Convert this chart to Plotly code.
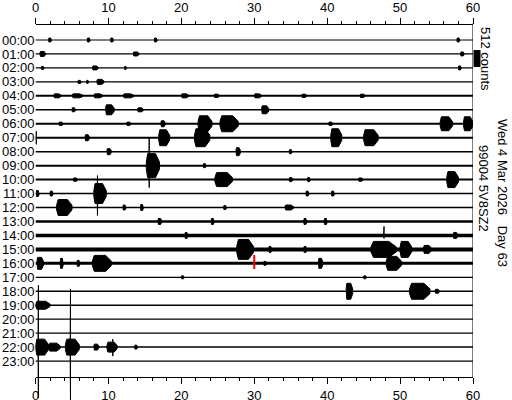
import plotly.graph_objects as go

# ---------------- data ----------------
ROW_LABELS = ["%02d:00" % h for h in range(24)]
X_TICKS = [0, 10, 20, 30, 40, 50, 60]
COUNTS_PER_ROW = 420          # trace spacing expressed in counts
SCALE_COUNTS = 512            # scale bar

# baseline (background noise) thickness per hourly row, px
BASE_WIDTH = [1, 1.2, 1.2, 1.2, 2, 1.5, 2, 2, 1.5, 2, 2, 1.5,
              1.5, 2.5, 3.5, 4, 3, 1.2, 1.5, 1.5, 1.2, 1.2, 1.5, 1.2]

# bursts: row, start minute, end minute, half amplitude (counts)
B_ROW = [0, 0, 0, 0, 0, 1, 1, 1, 2, 2, 2, 2, 3, 3, 3,
         4, 4, 4, 4, 4, 4, 4, 4, 4, 5, 5, 5, 5,
         6, 6, 6, 6, 6, 6, 6, 6, 7, 7, 7, 7, 7,
         8, 8, 8, 9, 9, 10, 10, 10, 10, 10, 10,
         11, 11, 11, 11, 11, 12, 12, 12, 12, 12,
         13, 13, 13, 13, 14, 14, 15, 15, 15, 15, 15, 15,
         16, 16, 16, 16, 16, 16, 16, 17, 17, 18, 18, 18, 19,
         22, 22, 22, 22, 22, 22]
B_START = [1.8, 7.1, 10.3, 16.3, 57.8, 0.6, 13.4, 58.3, 0.8, 7.8, 12.2, 58.0, 5.8, 8.4, 7.0,
           2.5, 5.0, 8.0, 12.0, 20.0, 30.0, 24.5, 36.5, 44.5, 9.6, 31.0, 14.0, 5.0,
           22.3, 25.3, 55.5, 58.7, 17.2, 3.2, 12.5, 40.2, 6.8, 16.9, 21.8, 40.5, 45.0,
           9.8, 27.5, 34.8, 15.2, 23.0, 24.6, 56.4, 34.8, 37.3, 5.2, 44.3,
           0.1, 2.0, 8.0, 37.1, 40.6, 2.9, 12.0, 14.4, 25.8, 34.2,
           16.8, 24.1, 36.8, 39.6, 20.5, 57.3, 27.6, 46.0, 50.0, 53.2, 32.0, 36.8,
           0.2, 3.4, 5.7, 7.8, 48.1, 38.8, 31.3, 20.0, 45.0, 42.6, 51.3, 54.8, 0.0,
           0.0, 1.8, 4.1, 8.0, 9.8, 13.6]
B_END = [2.2, 7.5, 10.7, 16.7, 58.2, 1.4, 14.2, 58.8, 1.2, 8.6, 12.5, 58.4, 6.3, 9.4, 7.3,
         3.5, 6.5, 9.2, 13.5, 21.0, 31.0, 25.2, 37.2, 45.2, 10.8, 32.0, 14.8, 5.5,
         24.2, 27.8, 57.2, 60.0, 17.8, 3.8, 13.1, 40.8, 7.4, 18.4, 23.9, 42.0, 47.0,
         10.4, 28.1, 35.2, 17.0, 23.4, 27.0, 58.0, 35.3, 37.7, 5.8, 44.9,
         0.5, 2.4, 9.7, 37.5, 41.0, 5.0, 12.4, 14.8, 26.2, 35.4,
         17.3, 24.5, 37.2, 40.0, 20.9, 57.9, 29.9, 49.5, 51.6, 54.3, 32.4, 37.2,
         1.1, 3.8, 6.1, 10.4, 50.2, 39.4, 31.7, 20.4, 45.4, 43.5, 54.1, 55.4, 2.0,
         1.8, 3.4, 6.0, 8.7, 11.2, 14.0]
B_AMP = [60, 60, 60, 60, 60, 75, 60, 60, 45, 60, 45, 60, 45, 75, 45,
         60, 60, 60, 60, 60, 60, 50, 50, 50, 150, 120, 60, 60,
         240, 240, 210, 210, 90, 50, 50, 50, 90, 240, 270, 270, 240,
         90, 120, 60, 360, 60, 210, 240, 60, 60, 50, 50,
         90, 75, 300, 75, 75, 240, 75, 90, 60, 75,
         90, 90, 90, 90, 90, 90, 300, 240, 240, 120, 90, 90,
         180, 150, 90, 240, 210, 150, 60, 45, 45, 240, 240, 60, 120,
         240, 120, 240, 90, 150, 60]

# spikes: row, minute, up amplitude, down amplitude (counts)
S_ROW = [7, 9, 11, 14, 22, 22, 22]
S_T = [0.1, 15.6, 8.5, 47.8, 0.4, 4.8, 10.6]
S_UP = [200, 840, 540, 270, 1860, 1740, 240]
S_DOWN = [200, 660, 660, 90, 1530, 1650, 270]

CURSOR_ROW = 16
CURSOR_MIN = 30.0

# ---------------- geometry ----------------
W, H = 512, 400
X0_PX, X60_PX = 35.5, 473.0
ROW0_PX, ROW_PX = 40.0, 13.96
TOP_AX_PX, BOT_AX_PX = 23.5, 377.0
y_top = (0 - ROW0_PX) / ROW_PX
y_bot = (H - ROW0_PX) / ROW_PX
k = 1.0 / COUNTS_PER_ROW

fig = go.Figure()

# baselines
for r in range(24):
    fig.add_trace(go.Scatter(x=[0, 60], y=[r, r], mode="lines",
                             line=dict(color="black", width=BASE_WIDTH[r]),
                             hoverinfo="skip", showlegend=False))

# bursts as filled envelopes
bx, by = [], []
for r, t0, t1, a in zip(B_ROW, B_START, B_END, B_AMP):
    d = t1 - t0
    pts = [(t0, 0.3 * a), (t0 + 0.1 * d, a), (t0 + 0.7 * d, a), (t1, 0.3 * a),
           (t1, -0.3 * a), (t0 + 0.7 * d, -a), (t0 + 0.1 * d, -a),
           (t0, -0.3 * a), (t0, 0.3 * a)]
    for t, v in pts:
        bx.append(t)
        by.append(r - v * k)
    bx.append(None)
    by.append(None)
for r, t, up, dn in zip(S_ROW, S_T, S_UP, S_DOWN):
    pts = [(t - 0.05, 0), (t, up), (t + 0.05, 0), (t, -dn), (t - 0.05, 0)]
    for tt, v in pts:
        bx.append(tt)
        by.append(r - v * k)
    bx.append(None)
    by.append(None)
fig.add_trace(go.Scatter(x=bx, y=by, mode="lines", fill="toself",
                         fillcolor="black", line=dict(color="black", width=1),
                         hoverinfo="skip", showlegend=False))

# cursor
fig.add_trace(go.Scatter(x=[CURSOR_MIN, CURSOR_MIN],
                         y=[CURSOR_ROW - 0.6, CURSOR_ROW + 0.4], mode="lines",
                         line=dict(color="#ff0000", width=2),
                         hoverinfo="skip", showlegend=False))

font = dict(family="Arial, Liberation Sans", size=13, color="black")


def axis_style(major_len, minor_len):
    return dict(range=[0, 60], showgrid=False, zeroline=False, showline=True,
                linecolor="black", linewidth=1, ticks="outside",
                ticklen=major_len, tickwidth=1, tickcolor="black",
                tickvals=X_TICKS, tickfont=font,
                minor=dict(dtick=2, tick0=0, ticks="outside", ticklen=minor_len,
                           tickcolor="black", tickwidth=1, showgrid=False),
                domain=[X0_PX / W, X60_PX / W], anchor="free",
                automargin=False)


fig.update_layout(
    width=W, height=H, margin=dict(l=0, r=0, t=0, b=0, autoexpand=False),
    paper_bgcolor="white", plot_bgcolor="white",
    xaxis=dict(**axis_style(6, 3), side="bottom", position=1 - BOT_AX_PX / H),
    xaxis2=dict(**axis_style(6, 3), side="top", position=1 - TOP_AX_PX / H,
                overlaying="x", matches="x"),
    yaxis=dict(range=[y_bot, y_top], domain=[0, 1], anchor="x",
               tickvals=list(range(24)), ticktext=ROW_LABELS, tickfont=font,
               ticks="", showgrid=False, zeroline=False, showline=False,
               automargin=False),
    showlegend=False,
)
# dummy trace to show xaxis2
fig.add_trace(go.Scatter(x=[None], y=[None], xaxis="x2", yaxis="y",
                         showlegend=False, hoverinfo="skip"))

# right frame line
fig.add_shape(type="line", xref="x", yref="paper", x0=60, x1=60,
              y0=1 - TOP_AX_PX / H, y1=1 - BOT_AX_PX / H,
              line=dict(color="black", width=1))
# scale bar
sb_top = (50 - ROW0_PX) / ROW_PX
fig.add_shape(type="rect", xref="paper", yref="y", x0=473.5 / W, x1=480.5 / W,
              y0=sb_top, y1=sb_top + SCALE_COUNTS * k,
              fillcolor="black", line=dict(width=0))

for txt, xp, yp in [("512 counts", 485, 59),
                    ("99004 5V8SZ2", 484, 188),
                    ("Wed 4 Mar 2026\u00a0\u00a0\u00a0Day 63", 502, 193)]:
    fig.add_annotation(text=txt, xref="paper", yref="paper", x=xp / W,
                       y=1 - yp / H, showarrow=False, textangle=90,
                       font=font, xanchor="center", yanchor="middle")

fig.write_html("out.html", config={"displayModeBar": False},
               post_script="document.body.style.margin='0';"
                           "document.body.style.overflow='hidden';")
